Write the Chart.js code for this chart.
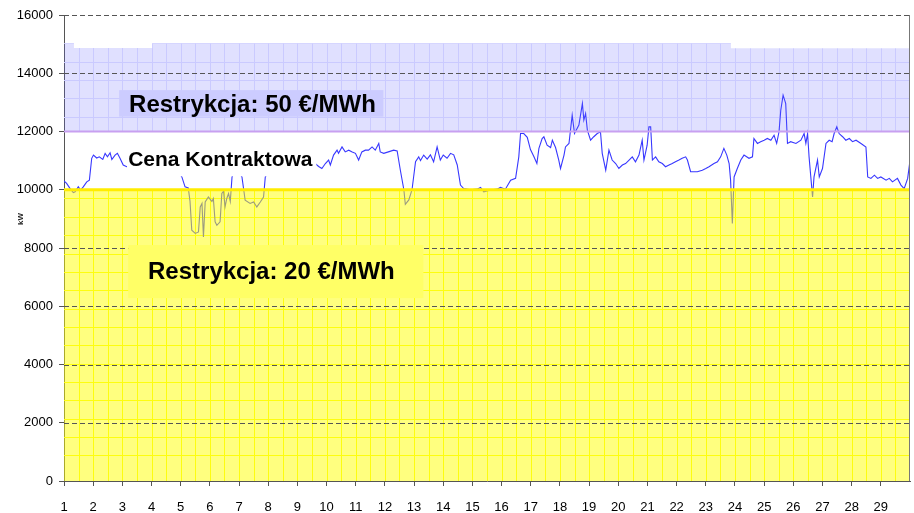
<!DOCTYPE html>
<html><head><meta charset="utf-8">
<script src="https://cdn.jsdelivr.net/npm/chart.js@4.4.0/dist/chart.umd.min.js"></script>
<style>html,body{margin:0;padding:0;background:#fff;}canvas{display:block;}</style>
</head><body>
<canvas id="c" width="914" height="513"></canvas>
<script>
// ---- data ----
const days = [1.00,1.09,1.21,1.32,1.38,1.49,1.57,1.66,1.78,1.87,1.95,2.01,2.12,2.21,2.33,2.41,2.49,2.58,2.64,2.75,2.83,2.92,3.03,3.15,3.24,
 3.50,4.00,4.50,4.90,
 5.04,5.15,5.26,5.32,5.38,5.50,5.61,5.67,5.73,5.78,5.84,5.95,6.07,6.12,6.18,6.24,6.35,6.41,6.47,6.52,6.58,6.64,6.70,6.76,
 6.90,
 7.10,7.21,7.38,7.50,7.61,7.73,7.84,7.90,
 8.20,8.70,9.20,
 9.61,9.73,9.84,9.96,10.07,10.13,10.24,10.36,10.41,10.53,10.64,10.76,10.88,10.99,11.10,11.21,11.33,11.44,11.56,11.67,11.79,11.84,11.96,12.12,12.30,12.42,
 12.53,12.65,12.70,12.82,12.93,13.05,13.16,13.22,13.33,13.45,13.56,13.67,13.79,13.90,14.00,14.13,14.25,14.36,14.48,14.59,14.70,14.93,15.16,15.28,15.39,15.62,15.85,15.96,16.13,16.31,16.48,
 16.59,16.65,16.76,16.88,16.99,17.11,17.21,17.28,17.39,17.45,17.56,17.68,17.74,17.85,17.96,18.02,18.14,18.19,18.31,18.42,18.50,18.65,18.77,18.82,18.88,18.94,
 19.05,19.16,19.28,19.39,19.45,19.57,19.68,19.79,19.91,20.02,20.14,20.25,20.37,20.48,20.59,20.71,20.82,20.88,20.99,21.05,21.11,21.17,21.28,21.39,21.51,21.62,21.74,21.85,21.96,
 22.08,22.19,22.31,22.37,22.48,22.71,22.88,23.00,23.11,23.28,23.40,23.51,23.62,23.72,23.80,23.85,23.91,23.97,24.08,24.20,24.31,24.48,24.60,24.65,24.77,24.88,
 25.00,25.11,25.23,25.34,25.43,25.51,25.57,25.65,25.74,25.80,25.91,26.09,26.26,26.37,26.43,26.49,26.54,26.60,26.66,26.71,26.83,26.89,27.00,27.12,27.23,27.33,27.40,27.49,27.57,27.69,27.80,27.92,
 28.03,28.15,28.32,28.49,28.55,28.66,28.78,28.89,29.00,29.18,29.29,29.40,29.57,29.69,29.80,29.92,30.01];
const loadKW = [10300,10220,10040,9900,9930,10100,9990,10100,10270,10330,11080,11190,11090,11130,11040,11250,11130,11270,11040,11190,11250,11080,10850,10790,10810,
 10950,11050,10900,10650,
 10440,10100,10060,9600,8610,8500,8550,9410,9530,8380,9580,9750,9600,9700,8900,8780,8900,9870,9950,9410,9700,9870,9600,10440,
 10750,
 10440,9640,9530,9580,9410,9580,9750,10440,
 10900,11100,10950,
 10900,10800,10730,10900,11020,10850,11190,11360,11250,11470,11300,11360,11300,11250,11020,11300,11360,11360,11470,11360,11590,11300,11250,11300,11360,11330,
 10670,10000,9500,9650,10000,10960,11130,11000,11190,11050,11200,10960,11470,11020,11190,11080,11250,11200,10850,10160,10040,10000,10020,10080,9930,9990,10020,10080,10020,10330,10390,
 11130,11930,11930,11800,11380,11130,10900,11420,11760,11820,11530,11450,11700,11450,11020,10730,11190,11470,11590,12560,11930,12220,12960,12390,12620,12050,
 11700,11820,11930,11990,11250,10670,11360,11020,10900,10730,10850,10900,11020,11130,10960,11190,11700,11020,11530,12160,12160,11020,11130,10960,10900,10790,10850,10900,10960,
 11020,11080,11130,11020,10620,10620,10670,10730,10790,10900,10960,11130,11420,11190,10900,10330,8840,10440,10730,11020,11190,11080,11130,11760,11590,11650,
 11700,11760,11700,11870,11590,11990,12730,13250,12960,11590,11650,11590,11700,11930,11590,11930,11130,10440,9750,10440,11020,10440,10730,11590,11700,11650,11930,12160,11930,11820,11700,11760,
 11650,11700,11590,11470,10440,10390,10500,10390,10440,10330,10390,10270,10390,10160,10040,10390,11080];

const bandDays = [1, 30];
const lowerLimitKW = [10000, 10000];   // top of "Restrykcja: 20 €/MWh" zone
const upperLimitKW = [12000, 12000];   // bottom of "Restrykcja: 50 €/MWh" zone
const capDays = [1, 1.34, 4.02, 23.86, 30];
const capKW = [15030, 14870, 15030, 14860, 14860];

const dayTickLabels = [1,2,3,4,5,6,7,8,9,10,11,12,13,14,15,16,17,18,19,20,21,22,23,24,25,26,27,28,29];
const kwTickLabels = [0,2000,4000,6000,8000,10000,12000,14000,16000];

const labelTexts = ['Restrykcja: 50 €/MWh', 'Cena Kontraktowa', 'Restrykcja: 20 €/MWh'];
const axisUnit = 'kW';

// ---- helpers ----
const pts = (xs, ys) => xs.map((x, i) => ({x, y: ys[i]}));
const FONT = '"Liberation Sans", Arial, sans-serif';

const decorPlugin = {
  id: 'decor',
  beforeDatasetsDraw(chart) {
    const {ctx, chartArea: a, scales: {x, y}} = chart;
    ctx.save();
    ctx.lineWidth = 1;
    // yellow zone minor grid
    ctx.save();
    ctx.beginPath();
    ctx.rect(a.left, y.getPixelForValue(10000), a.right - a.left, y.getPixelForValue(0) - y.getPixelForValue(10000));
    ctx.clip();
    ctx.strokeStyle = 'rgb(250,250,30)';
    for (let d = 1.5; d < 30; d += 0.5) {
      const px = Math.round(x.getPixelForValue(d)) + 0.5;
      ctx.beginPath(); ctx.moveTo(px, a.top); ctx.lineTo(px, a.bottom); ctx.stroke();
    }
    for (let v = 880; v < 10000; v += 630) {
      const py = Math.round(y.getPixelForValue(v)) + 0.5;
      ctx.beginPath(); ctx.moveTo(a.left, py); ctx.lineTo(a.right, py); ctx.stroke();
    }
    ctx.restore();
    // blue zone minor grid
    ctx.save();
    ctx.beginPath();
    ctx.moveTo(x.getPixelForValue(capDays[0]), y.getPixelForValue(12000));
    for (let i = 0; i < capDays.length; i++) {
      ctx.lineTo(x.getPixelForValue(capDays[i]), y.getPixelForValue(capKW[i]));
      if (i < capDays.length - 1) ctx.lineTo(x.getPixelForValue(capDays[i + 1]), y.getPixelForValue(capKW[i]));
    }
    ctx.lineTo(x.getPixelForValue(capDays[capDays.length - 1]), y.getPixelForValue(12000));
    ctx.closePath();
    ctx.clip();
    ctx.strokeStyle = 'rgb(228,228,255)';
    for (let d = 1.5; d < 30; d += 0.5) {
      const px = Math.round(x.getPixelForValue(d)) + 0.5;
      ctx.beginPath(); ctx.moveTo(px, a.top); ctx.lineTo(px, a.bottom); ctx.stroke();
    }
    for (let v = 12510; v < 15100; v += 630) {
      const py = Math.round(y.getPixelForValue(v)) + 0.5;
      ctx.beginPath(); ctx.moveTo(a.left, py); ctx.lineTo(a.right, py); ctx.stroke();
    }
    ctx.restore();
    ctx.restore();
  },
  afterDatasetsDraw(chart) {
    const {ctx, chartArea: a, scales: {x, y}} = chart;
    ctx.save();
    // dashed major grid
    ctx.strokeStyle = '#555';
    ctx.lineWidth = 1;
    ctx.setLineDash([5, 3]);
    kwTickLabels.forEach(v => {
      if (v === 0 || v === 10000 || v === 12000) return;
      const py = Math.round(y.getPixelForValue(v)) + 0.5;
      ctx.beginPath(); ctx.moveTo(a.left, py); ctx.lineTo(a.right, py); ctx.stroke();
    });
    ctx.setLineDash([]);
    // right border
    ctx.strokeStyle = '#777';
    const rx = Math.round(a.right) - 0.5;
    ctx.beginPath(); ctx.moveTo(rx, a.top); ctx.lineTo(rx, a.bottom); ctx.stroke();

    const box = (d0, d1, v0, v1, color) => {
      const x0 = x.getPixelForValue(d0), x1 = x.getPixelForValue(d1);
      const y0 = y.getPixelForValue(v1), y1 = y.getPixelForValue(v0);
      ctx.fillStyle = color;
      ctx.fillRect(x0, y0, x1 - x0, y1 - y0);
    };
    const text = (t, d, v, size) => {
      ctx.fillStyle = '#000';
      ctx.font = 'bold ' + size + 'px ' + FONT;
      ctx.textAlign = 'left';
      ctx.textBaseline = 'middle';
      ctx.fillText(t, x.getPixelForValue(d), y.getPixelForValue(v));
    };
    box(2.89, 11.95, 12510, 13420, 'rgb(204,204,255)');
    text(labelTexts[0], 3.23, 12880, 24);
    box(3.16, 9.65, 10460, 11530, '#ffffff');
    text(labelTexts[1], 3.20, 11000, 21);
    box(3.20, 13.32, 6280, 8100, 'rgb(255,255,102)');
    text(labelTexts[2], 3.88, 7170, 24);

    // unit label
    ctx.save();
    ctx.translate(21, y.getPixelForValue(9000));
    ctx.rotate(-Math.PI / 2);
    ctx.font = 'bold 8px ' + FONT;
    ctx.fillStyle = '#222';
    ctx.textAlign = 'center';
    ctx.textBaseline = 'middle';
    ctx.fillText(axisUnit, 0, 0);
    ctx.restore();
    ctx.restore();
  }
};

new Chart(document.getElementById('c'), {
  type: 'line',
  data: {
    datasets: [
      {
        label: 'load',
        data: pts(days, loadKW),
        borderColor: 'rgb(55,55,255)',
        borderWidth: 1.1,
        pointRadius: 0,
        tension: 0,
        fill: false,
        order: 10
      },
      {
        label: 'zone20',
        data: pts(bandDays, lowerLimitKW),
        borderColor: 'rgb(255,236,0)',
        borderWidth: 3,
        pointRadius: 0,
        backgroundColor: 'rgba(255,255,0,0.5)',
        fill: {value: 0},
        order: 5
      },
      {
        label: 'zone50',
        data: pts(capDays, capKW),
        borderWidth: 0,
        borderColor: 'rgba(0,0,0,0)',
        pointRadius: 0,
        stepped: 'before',
        backgroundColor: 'rgba(100,100,255,0.2)',
        fill: {value: 12000},
        order: 4
      },
      {
        label: 'limit50',
        data: pts(bandDays, upperLimitKW),
        borderColor: 'rgb(200,160,240)',
        borderWidth: 2,
        pointRadius: 0,
        fill: false,
        order: 3
      }
    ]
  },
  options: {
    responsive: false,
    devicePixelRatio: 1,
    animation: false,
    layout: {padding: {top: 15, right: 4, left: 0, bottom: 0}},
    plugins: {legend: {display: false}, tooltip: {enabled: false}},
    scales: {
      x: {
        type: 'linear',
        min: 1, max: 30,
        afterBuildTicks: s => { s.ticks = dayTickLabels.map(v => ({value: v})); },
        afterFit: s => { s.height = 32; },
        ticks: {
          autoSkip: false, maxRotation: 0, padding: 14,
          font: {family: FONT, size: 13}, color: '#000',
          callback: v => String(v)
        },
        grid: {drawOnChartArea: false, drawTicks: true, tickLength: 5, color: '#555'},
        border: {color: '#555', width: 1}
      },
      y: {
        min: 0, max: 16000,
        afterBuildTicks: s => { s.ticks = kwTickLabels.map(v => ({value: v})); },
        afterFit: s => { s.width = 64; },
        ticks: {
          padding: 6,
          font: {family: FONT, size: 13}, color: '#000',
          callback: v => String(v)
        },
        grid: {drawOnChartArea: false, drawTicks: true, tickLength: 5, color: '#555'},
        border: {color: '#555', width: 1}
      }
    }
  },
  plugins: [decorPlugin]
});
</script>
</body></html>
